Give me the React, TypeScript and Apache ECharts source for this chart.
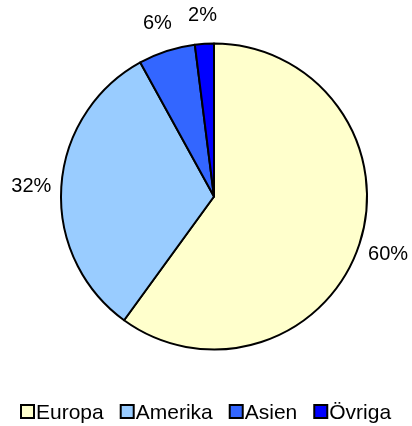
import React, { useEffect, useRef } from "react";
import * as echarts from "echarts";

const categories = ["Europa", "Amerika", "Asien", "Övriga"];
const values = [60, 32, 6, 2];
const colors = ["#FFFFCC", "#99CCFF", "#3366FF", "#0000FF"];

const FONT = "Liberation Sans, Arial, sans-serif";

export default function App() {
  const ref = useRef<HTMLDivElement>(null);
  useEffect(() => {
    if (!ref.current) return;
    const chart = echarts.init(ref.current, undefined, { renderer: "svg" });
    const data = categories.map((name, i) => ({
      name,
      value: values[i],
      itemStyle: { color: colors[i] },
    }));
    const rich: Record<string, any> = {
      t: { fontSize: 21, color: "#000", fontFamily: FONT, padding: [0, 0, 0, 3] },
    };
    colors.forEach((c, i) => {
      rich["b" + i] = {
        width: 11,
        height: 11,
        backgroundColor: c,
        borderColor: "#000",
        borderWidth: 2,
      };
    });
    chart.setOption({
      animation: false,
      textStyle: { fontFamily: FONT },
      legend: {
        data: categories,
        left: 15,
        top: 396,
        icon: "none",
        itemWidth: 0,
        itemHeight: 12,
        itemGap: 16,
        formatter: (name: string) =>
          `{b${categories.indexOf(name)}|}{t|${name}}`,
        textStyle: {
          fontSize: 21,
          color: "#000",
          fontFamily: FONT,
          padding: [0, 0, 0, -5],
          rich,
        },
        selectedMode: false,
      },
      series: [
        {
          type: "pie",
          center: [214, 196.5],
          radius: 153,
          startAngle: 90,
          clockwise: true,
          silent: true,
          data,
          itemStyle: { borderColor: "#000", borderWidth: 2 },
          label: { show: false },
          labelLine: { show: false },
          emphasis: { disabled: true },
        },
        {
          type: "pie",
          center: [214, 196.5],
          radius: [170, 190],
          startAngle: 90,
          clockwise: true,
          silent: true,
          data: categories.map((name, i) => ({ name, value: values[i] })),
          itemStyle: { color: "rgba(0,0,0,0)", borderWidth: 0 },
          label: {
            show: true,
            position: "inside",
            rotate: 0,
            formatter: "{c}%",
            fontSize: 20,
            color: "#000",
            fontFamily: FONT,
          },
          labelLine: { show: false },
          emphasis: { disabled: true },
        },
      ],
    });
    return () => chart.dispose();
  }, []);
  return (
    <div
      ref={ref}
      style={{ position: "fixed", left: 0, top: 0, width: 412, height: 426 }}
    />
  );
}
